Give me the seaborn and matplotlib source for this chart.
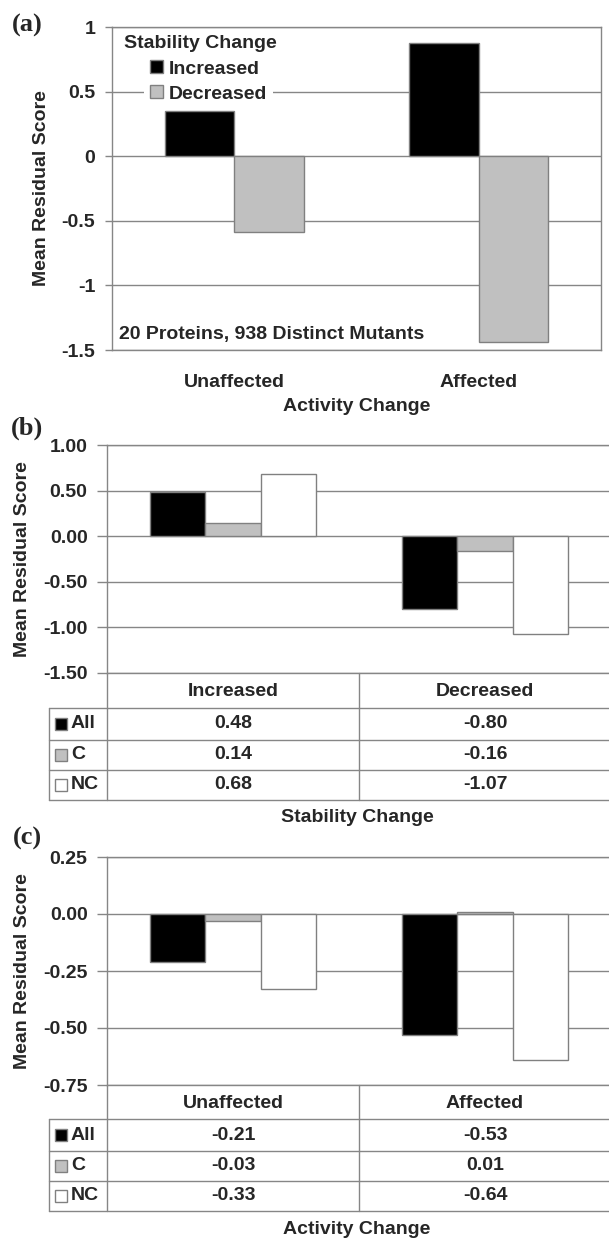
import matplotlib
matplotlib.use("Agg")
import matplotlib.pyplot as plt
import seaborn as sns
import numpy as np
import pandas as pd
from matplotlib.patches import Patch
from matplotlib.transforms import blended_transform_factory
from matplotlib.ticker import FormatStrFormatter

# ---- data ----
activity_cats = ['Unaffected', 'Affected']
stability_cats = ['Increased', 'Decreased']
series_names = ['All', 'C', 'NC']

# (a) mean residual score by activity change, split by stability change
a_increased = [0.35, 0.88]
a_decreased = [-0.59, -1.44]

# (b) by stability change
b_all = [0.48, -0.80]
b_c = [0.14, -0.16]
b_nc = [0.68, -1.07]

# (c) by activity change
c_all = [-0.21, -0.53]
c_c = [-0.03, 0.01]
c_nc = [-0.33, -0.64]

# ---- style ----
sns.set_style('white')
plt.rcParams['font.family'] = ['Liberation Sans', 'DejaVu Sans']
plt.rcParams['font.weight'] = 'bold'
plt.rcParams['axes.unicode_minus'] = False

W, H = 609, 1238
FS = 14
GRID = '#868686'
EDGE = '#808080'
colors = ['#000000', '#C0C0C0', '#FFFFFF']

fig = plt.figure(figsize=(W / 100, H / 100), dpi=100)


def add_ax(left, top, right, bottom):
    return fig.add_axes([left / W, 1 - bottom / H, (right - left) / W, (bottom - top) / H])


def style_ax(ax, ylim, yticks, fmt, ticklen):
    ax.set_ylim(*ylim)
    ax.set_xlim(-0.5, 1.5)
    ax.set_yticks(yticks)
    ax.yaxis.set_major_formatter(FormatStrFormatter(fmt))
    ax.yaxis.grid(True, color=GRID, lw=1)
    ax.set_axisbelow(True)
    for s in ax.spines.values():
        s.set_color(GRID)
        s.set_linewidth(1)
    ax.tick_params(axis='y', left=True, length=ticklen, width=1, color=GRID,
                   pad=7, labelsize=FS)
    ax.tick_params(axis='x', bottom=False, length=0)
    ax.set_xlabel('')
    ax.set_ylabel('Mean Residual Score', fontsize=FS, fontweight='bold')
    ax.yaxis.label.set_va('center')


# ---- panel (a) ----
ax_a = add_ax(112, 27, 601, 350)
df_a = pd.DataFrame({
    'activity': activity_cats * 2,
    'stability': ['Increased'] * 2 + ['Decreased'] * 2,
    'score': a_increased + a_decreased,
})
sns.barplot(data=df_a, x='activity', y='score', hue='stability',
            order=activity_cats, hue_order=stability_cats,
            palette=colors[:2], saturation=1, width=0.57, errorbar=None,
            edgecolor=EDGE, linewidth=1, legend=False, ax=ax_a)
style_ax(ax_a, (-1.5, 1.0), [1, 0.5, 0, -0.5, -1, -1.5], '%g', 5)
ax_a.yaxis.set_label_coords(-0.145, 0.5)
ax_a.set_xticks(range(len(activity_cats)))
ax_a.set_xticklabels(activity_cats, fontsize=FS, fontweight='bold')
ax_a.tick_params(axis='x', pad=17)
ax_a.set_xlabel('Activity Change', fontsize=FS, fontweight='bold')
ax_a.xaxis.label.set_va('center')
ax_a.xaxis.set_label_coords(0.5, -0.176)

handles = [Patch(facecolor=colors[0], edgecolor=EDGE),
           Patch(facecolor=colors[1], edgecolor=EDGE)]
leg = ax_a.legend(handles, stability_cats, loc='upper left',
                  bbox_to_anchor=(0.066, 0.915), frameon=True, framealpha=1,
                  facecolor='white', edgecolor='none', fancybox=False,
                  prop={'size': FS, 'weight': 'bold'}, handlelength=0.65,
                  handleheight=0.65, handletextpad=0.3, labelspacing=0.4,
                  borderpad=0.3, borderaxespad=0)
ax_a.text(0.025, 0.95, 'Stability Change', transform=ax_a.transAxes,
          ha='left', va='center', fontsize=FS, fontweight='bold')
ax_a.text(0.015, 0.047, '20 Proteins, 938 Distinct Mutants', transform=ax_a.transAxes,
          ha='left', va='center', fontsize=FS, fontweight='bold')


# ---- panels (b) and (c) with data tables ----
def grouped_panel(box, cats, vals, ylim, yticks, row_px, xlabel, xlabel_y):
    left, top, right, bottom = box
    ax = add_ax(left, top, right, bottom)
    df = pd.DataFrame({
        'cat': cats * 3,
        'series': [s for s in series_names for _ in cats],
        'score': [v for arr in vals for v in arr],
    })
    sns.barplot(data=df, x='cat', y='score', hue='series',
                order=cats, hue_order=series_names, palette=colors,
                saturation=1, width=0.66, errorbar=None,
                edgecolor=EDGE, linewidth=1, legend=False, ax=ax)
    style_ax(ax, ylim, yticks, '%.2f', 7)
    ax.yaxis.set_label_coords(-0.167, 0.5)
    ax.set_xticks([])

    hpx = bottom - top
    tr = blended_transform_factory(ax.transData, ax.transAxes)

    def fy(py):
        return (bottom - py) / hpx

    def fx(px):
        return -0.5 + (px - left) / (right - left) * 2

    x_tab = fx(49)
    lk = dict(color=GRID, lw=1, transform=tr, clip_on=False)
    yb = fy(row_px[-1])
    # vertical lines
    ax.plot([-0.5, -0.5], [0, yb], **lk)
    ax.plot([0.5, 0.5], [0, yb], **lk)
    ax.plot([x_tab, x_tab], [fy(row_px[1]), yb], **lk)
    # horizontal lines
    for py in row_px[1:]:
        ax.plot([x_tab, 1.5], [fy(py), fy(py)], **lk)

    # header row
    yh = fy((row_px[0] + row_px[1]) / 2 + 1)
    for i, c in enumerate(cats):
        ax.text(i, yh, c, transform=tr, ha='center', va='center',
                fontsize=FS, fontweight='bold')
    # value rows
    for r, (name, arr) in enumerate(zip(series_names, vals)):
        yc = fy((row_px[r + 1] + row_px[r + 2]) / 2)
        ax.plot([fx(61)], [yc], marker='s', ms=8.5, mfc=colors[r], mec=EDGE,
                mew=1, transform=tr, clip_on=False)
        ax.text(fx(71), yc, name, transform=tr, ha='left', va='center',
                fontsize=FS, fontweight='bold')
        for i, v in enumerate(arr):
            ax.text(i, yc, f'{v:.2f}', transform=tr, ha='center', va='center',
                    fontsize=FS, fontweight='bold')

    fig.text(((left + right) / 2 - 2) / W, 1 - xlabel_y / H, xlabel,
             ha='center', va='center', fontsize=FS, fontweight='bold')
    return ax


ax_b = grouped_panel((107, 445, 611, 673), stability_cats, [b_all, b_c, b_nc],
                     (-1.5, 1.0), [1.0, 0.5, 0.0, -0.5, -1.0, -1.5],
                     [673, 708, 740, 770, 800], 'Stability Change', 818)
ax_c = grouped_panel((107, 857, 611, 1085), activity_cats, [c_all, c_c, c_nc],
                     (-0.75, 0.25), [0.25, 0.0, -0.25, -0.5, -0.75],
                     [1085, 1119, 1151, 1181, 1211], 'Activity Change', 1229)

# panel letters
for lab, py in [('(a)', 25), ('(b)', 428), ('(c)', 838)]:
    fig.text(27 / W, 1 - py / H, lab, ha='center', va='center', fontsize=19,
             fontweight='bold', family=['Liberation Serif', 'DejaVu Serif'])

fig.savefig('out.png', dpi=100, facecolor='white')
